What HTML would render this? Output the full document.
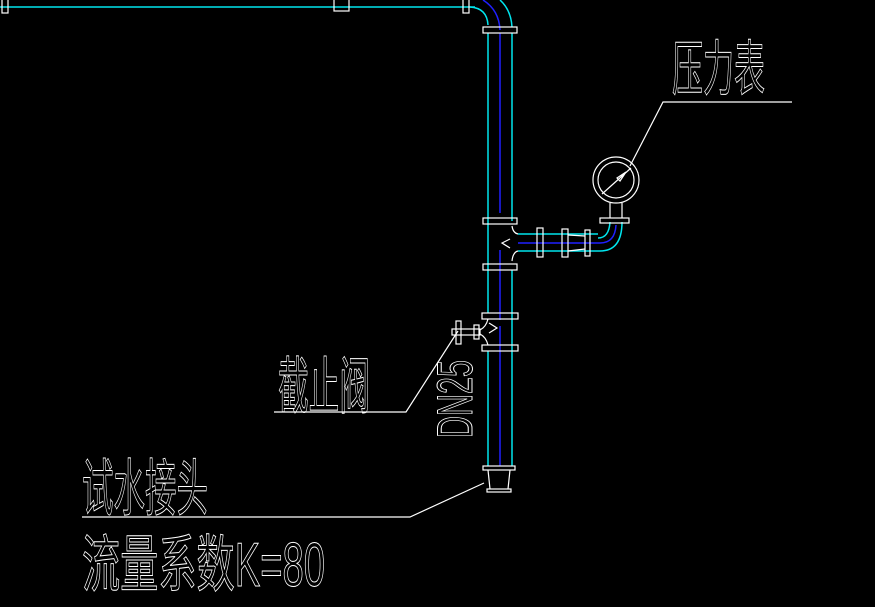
<!DOCTYPE html>
<html><head><meta charset="utf-8"><style>
html,body{margin:0;padding:0;background:#000;}
svg{display:block;}
text{font-family:"Liberation Sans","Noto Sans CJK SC",sans-serif;fill:none;stroke:#fff;stroke-width:1;}
</style></head><body>
<svg width="875" height="607" viewBox="0 0 875 607" xmlns="http://www.w3.org/2000/svg">
<g fill="none" stroke-width="1.5">
<!-- top horizontal pipe -->
<line x1="0" y1="7" x2="475" y2="7" stroke="#00e5ee"/>
<path d="M470 7 Q487 8 488 25" stroke="#00e5ee"/>
<path d="M483 0 Q499 10 500 30" stroke="#2020ff"/>
<path d="M500 0 Q511 10 512 27" stroke="#00e5ee"/>
<!-- vertical pipe -->
<line x1="488" y1="33" x2="488" y2="313" stroke="#00e5ee"/>
<line x1="512" y1="33" x2="512" y2="221" stroke="#00e5ee"/>
<line x1="512" y1="270" x2="512" y2="466" stroke="#00e5ee"/>
<line x1="488" y1="351" x2="488" y2="466" stroke="#00e5ee"/>
<line x1="500" y1="33" x2="500" y2="213" stroke="#2020ff"/>
<line x1="500" y1="250" x2="500" y2="320" stroke="#2020ff"/>
<line x1="500" y1="326" x2="500" y2="466" stroke="#2020ff"/>
<!-- branch -->
<line x1="518" y1="234" x2="598" y2="234" stroke="#00e5ee"/>
<line x1="518" y1="251" x2="600" y2="251" stroke="#00e5ee"/>
<line x1="518" y1="243" x2="600" y2="243" stroke="#2020ff"/>
<path d="M598 238 Q609 238 610 222" stroke="#00e5ee"/>
<path d="M600 243 Q615 243 616 225" stroke="#2020ff"/>
<path d="M600 251 Q622 251 622 222" stroke="#00e5ee"/>
</g>
<g fill="none" stroke="#fff" stroke-width="1.2">
<rect x="2" y="-2" width="6" height="15"/>
<rect x="334" y="-2" width="15" height="13"/>
<rect x="463" y="-2" width="6" height="15"/>
<rect x="483" y="27" width="34" height="6"/>
<rect x="483" y="218" width="34" height="6"/>
<rect x="483" y="264" width="34" height="6"/>
<rect x="482" y="313" width="36" height="6"/>
<rect x="482" y="345" width="36" height="6"/>
<path d="M512 226 Q513 233 518 234 M512 261 Q513 252 518 251"/>
<path d="M510 239 L502 243 L510 248"/>
<rect x="537" y="228" width="6" height="29"/>
<rect x="562" y="229" width="6" height="28"/>
<rect x="585" y="230" width="5" height="26"/>
<path d="M568 235 L585 236 M568 251 L585 249"/>
<rect x="600" y="218" width="29" height="5"/>
<path d="M610 203 V218 M622 203 V218"/>
<circle cx="616" cy="180" r="23"/>
<circle cx="616" cy="180" r="18"/>
<path d="M602 194 L631 168 M626 172 L620 181 L617 178 Z"/>
<!-- valve -->
<rect x="456" y="321" width="5" height="23"/>
<rect x="452" y="329" width="28" height="6"/>
<rect x="474" y="325" width="5" height="14"/>
<path d="M488 319 Q486 327 480 330 M480 334 Q486 337 488 345"/>
<path d="M489 323 L497 328 L489 333"/>
<!-- bottom connector -->
<rect x="483" y="466" width="32" height="4"/>
<path d="M488 470 L490 489 M510 470 L508 489"/>
<rect x="487" y="489" width="24" height="3"/>
<!-- leaders -->
<path d="M792 102 H663 L630 166"/>
<path d="M274 412 H406 L458 331"/>
<path d="M82 517 H410 L484 483"/>
</g>
<g>
<text x="672" y="90" font-size="60" textLength="93" lengthAdjust="spacingAndGlyphs">压力表</text>
<text x="278" y="408" font-size="62" textLength="92" lengthAdjust="spacingAndGlyphs">截止阀</text>
<text x="82" y="510" font-size="62" textLength="126" lengthAdjust="spacingAndGlyphs">试水接头</text>
<text x="82" y="586" font-size="62" textLength="243" lengthAdjust="spacingAndGlyphs">流量系数K=80</text>
<text transform="translate(472,438) rotate(-90)" font-size="50" textLength="78" lengthAdjust="spacingAndGlyphs">DN25</text>
</g>
</svg>
</body></html>
